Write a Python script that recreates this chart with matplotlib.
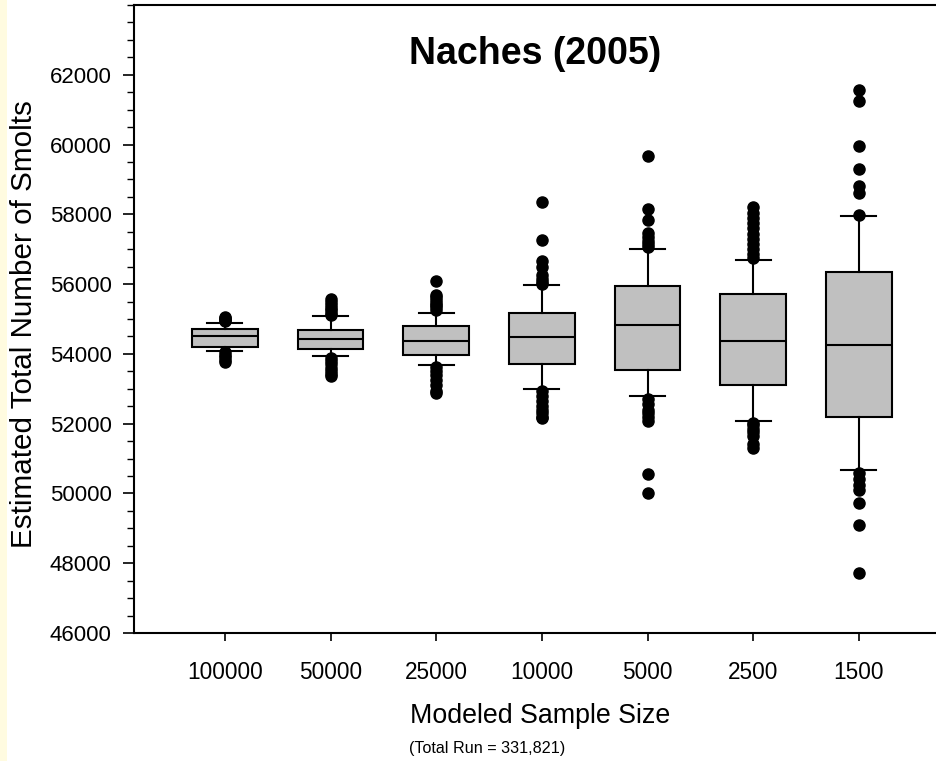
import matplotlib
matplotlib.use("Agg")
import matplotlib.pyplot as plt
from matplotlib.patches import Rectangle
from matplotlib.ticker import MultipleLocator

plt.rcParams['font.family'] = ['Liberation Sans', 'DejaVu Sans']

# values
sample_sizes = ["100000", "50000", "25000", "10000", "5000", "2500", "1500"]
whisker_lo = [54095, 53940, 53685, 53005, 52780, 52090, 50675]
q1 = [54210, 54135, 53980, 53713, 53540, 53110, 52200]
medians = [54500, 54420, 54380, 54487, 54830, 54370, 54260]
q3 = [54720, 54690, 54800, 55165, 55950, 55720, 56340]
whisker_hi = [54880, 55090, 55185, 55970, 57000, 56690, 57940]
outliers = [
    [54930, 54970, 55000, 55040, 55070, 54050, 53980, 53900, 53830, 53760],
    [55570, 55480, 55400, 55320, 55250, 55170, 55120,
     53890, 53800, 53700, 53600, 53500, 53420, 53360],
    [56075, 55700, 55620, 55550, 55470, 55400, 55330, 55260,
     53620, 53500, 53400, 53250, 53100, 52950, 52870],
    [58340, 57270, 56650, 56500, 56250, 56150, 56050, 55990,
     52950, 52800, 52650, 52500, 52400, 52300, 52200, 52150],
    [59680, 58150, 57840, 57470, 57350, 57250, 57150, 57050,
     52700, 52550, 52400, 52300, 52200, 52080, 50560, 50005],
    [58200, 58050, 57900, 57750, 57600, 57450, 57300, 57150, 57000, 56850, 56750,
     52020, 51950, 51850, 51750, 51650, 51420, 51300],
    [61570, 61235, 59970, 59300, 58800, 58610, 57990,
     50600, 50400, 50240, 50100, 49740, 49100, 47730],
]

stats = []
for i, name in enumerate(sample_sizes):
    stats.append(dict(label=name, whislo=whisker_lo[i], q1=q1[i], med=medians[i],
                      q3=q3[i], whishi=whisker_hi[i], fliers=outliers[i]))

fig = plt.figure(figsize=(9.36, 7.61), dpi=100)
# pale strip down the left edge
fig.patches.append(Rectangle((0, 0), 7 / 936, 1, transform=fig.transFigure,
                             facecolor='#FFFBE0', edgecolor='none', zorder=-1))

ax = fig.add_axes([134 / 936, 1 - 633 / 761, 1 - 134 / 936, 628 / 761])
lw = 1.5
ax.bxp(stats, positions=range(1, 8), widths=0.62, capwidths=0.33, patch_artist=True,
       boxprops=dict(facecolor='#C0C0C0', edgecolor='black', linewidth=lw),
       medianprops=dict(color='black', linewidth=lw),
       whiskerprops=dict(color='black', linewidth=lw),
       capprops=dict(color='black', linewidth=lw),
       flierprops=dict(marker='o', markerfacecolor='black', markeredgecolor='black',
                       markersize=8))

ax.set_xlim(0.14, 7.73)
ax.set_ylim(46000, 64000)
ax.set_yticks(range(46000, 62001, 2000))
ax.yaxis.set_minor_locator(MultipleLocator(500))
ax.set_xticks(range(1, 8))
ax.set_xticklabels(sample_sizes)

ax.spines['right'].set_visible(False)
for s in ['left', 'top', 'bottom']:
    ax.spines[s].set_linewidth(1.5)
ax.tick_params(axis='y', which='major', length=8, width=1.2, labelsize=16, pad=8)
ax.tick_params(axis='y', which='minor', length=5, width=1.0)
ax.tick_params(axis='x', which='major', length=6, width=1.2, labelsize=16.3, pad=14)

ax.text(0.5, 0.922, "Naches (2005)", transform=ax.transAxes, ha='center', va='center',
        fontsize=27, fontweight='bold')

fig.text(24 / 936, 1 - 324 / 761, "Estimated Total Number of Smolts", rotation=90,
         ha='center', va='center', fontsize=21.3)
fig.text(540 / 936, 1 - 716 / 761, "Modeled Sample Size", ha='center', va='center',
         fontsize=19.3)
fig.text(487 / 936, 1 - 748 / 761, "(Total Run = 331,821)", ha='center', va='center',
         fontsize=11.6)

fig.savefig("out.png", dpi=100)
